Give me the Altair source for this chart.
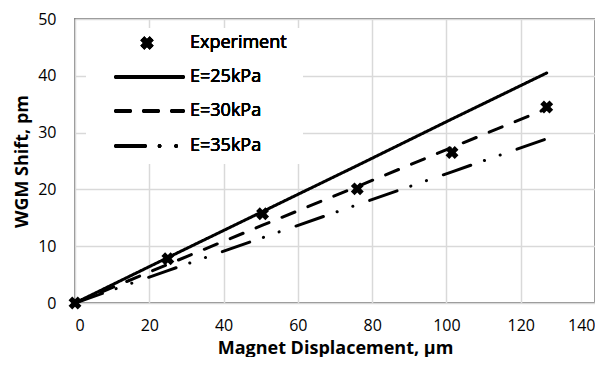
import altair as alt
import pandas as pd

# Data
disp = [0, 25, 50.5, 76, 101.5, 127]
experiment = [0, 7.8, 15.7, 20.1, 26.5, 34.5]
e25 = [0, 8.0, 16.1, 24.2, 32.4, 40.5]
e30 = [0, 6.8, 13.7, 20.5, 27.4, 34.2]
e35 = [0, 5.7, 11.5, 17.3, 23.1, 28.9]

series_names = ["E=25kPa", "E=30kPa", "E=35kPa"]
series_vals = [e25, e30, e35]
dashes = [[1, 0], [14, 14], [29, 14.5, 0.1, 16.5, 0.1, 17.8]]

FONT = "Open Sans"

pts = pd.DataFrame({"x": disp, "y": experiment})
lines = pd.DataFrame(
    [{"series": s, "x": xv, "y": yv, "o": i}
     for s, vals in zip(series_names, series_vals)
     for i, (xv, yv) in enumerate(zip(disp, vals))]
)

xs = alt.Scale(domain=[0, 140], nice=False)
ys = alt.Scale(domain=[0, 50], nice=False)

xaxis = alt.Axis(title="Magnet Displacement, µm", values=list(range(0, 141, 20)),
                 grid=True, ticks=False, domain=False, labelPadding=14,
                 titlePadding=6)
yaxis = alt.Axis(title="WGM Shift, pm", values=list(range(0, 51, 10)),
                 grid=True, ticks=False, domain=False, labelPadding=19,
                 titlePadding=6)

base_grid = alt.Chart(pts).mark_point(opacity=0).encode(
    x=alt.X("x:Q", scale=xs, axis=xaxis),
    y=alt.Y("y:Q", scale=ys, axis=yaxis),
)

legend_bg = alt.Chart(pts).mark_rect(color="white").encode(
    x=alt.value(11), x2=alt.value(228), y=alt.value(9), y2=alt.value(145)
)

line_layer = alt.Chart(lines).mark_line(color="black", strokeWidth=3, strokeCap="round",
                                        clip=False).encode(
    x=alt.X("x:Q", scale=xs),
    y=alt.Y("y:Q", scale=ys),
    detail="series:N",
    order="o:Q",
    strokeDash=alt.StrokeDash("series:N", scale=alt.Scale(domain=series_names, range=dashes), legend=None),
)

point_layer = alt.Chart(pts).mark_point(shape="cross", angle=45, filled=True, color="black",
                                        size=170, opacity=1, clip=False).encode(
    x=alt.X("x:Q", scale=xs),
    y=alt.Y("y:Q", scale=ys),
)

# manual legend (layout positions only)
leg_layers = []
leg_layers.append(alt.Chart(pts).mark_point(shape="cross", angle=45, filled=True, color="black",
                                            size=170, opacity=1).encode(
    x=alt.value(72), y=alt.value(24)))
leg_y = [58, 92, 127]
for name, dash, yy in zip(series_names, dashes, leg_y):
    leg_layers.append(alt.Chart(pts).mark_rule(color="black", strokeWidth=3.5, strokeCap="round",
                                               strokeDash=dash).encode(
        x=alt.value(41), x2=alt.value(108), y=alt.value(yy)))
labels = ["Experiment"] + series_names
for lab, yy in zip(labels, [24] + leg_y):
    leg_layers.append(alt.Chart(pts).mark_text(text=lab, align="left", baseline="middle",
                                               font=FONT, fontSize=18, fontWeight="normal",
                                               color="black").encode(
        x=alt.value(115), y=alt.value(yy)))

chart = alt.layer(base_grid, legend_bg, line_layer, point_layer, *leg_layers).properties(
    width=587, height=349,
    autosize=alt.AutoSizeParams(type="fit", contains="padding"),
    padding={"left": 5, "top": 3, "right": 0, "bottom": 0},
).configure_view(
    stroke="#898989", strokeWidth=2
).configure_axis(
    gridColor="#d9d9d9", gridWidth=1.5,
    labelFont=FONT, labelFontSize=16, labelColor="black",
    titleFont=FONT, titleFontSize=18, titleFontWeight="bold", titleColor="black",
)

chart.save("out.html", embed_options={"renderer": "svg", "actions": False})
